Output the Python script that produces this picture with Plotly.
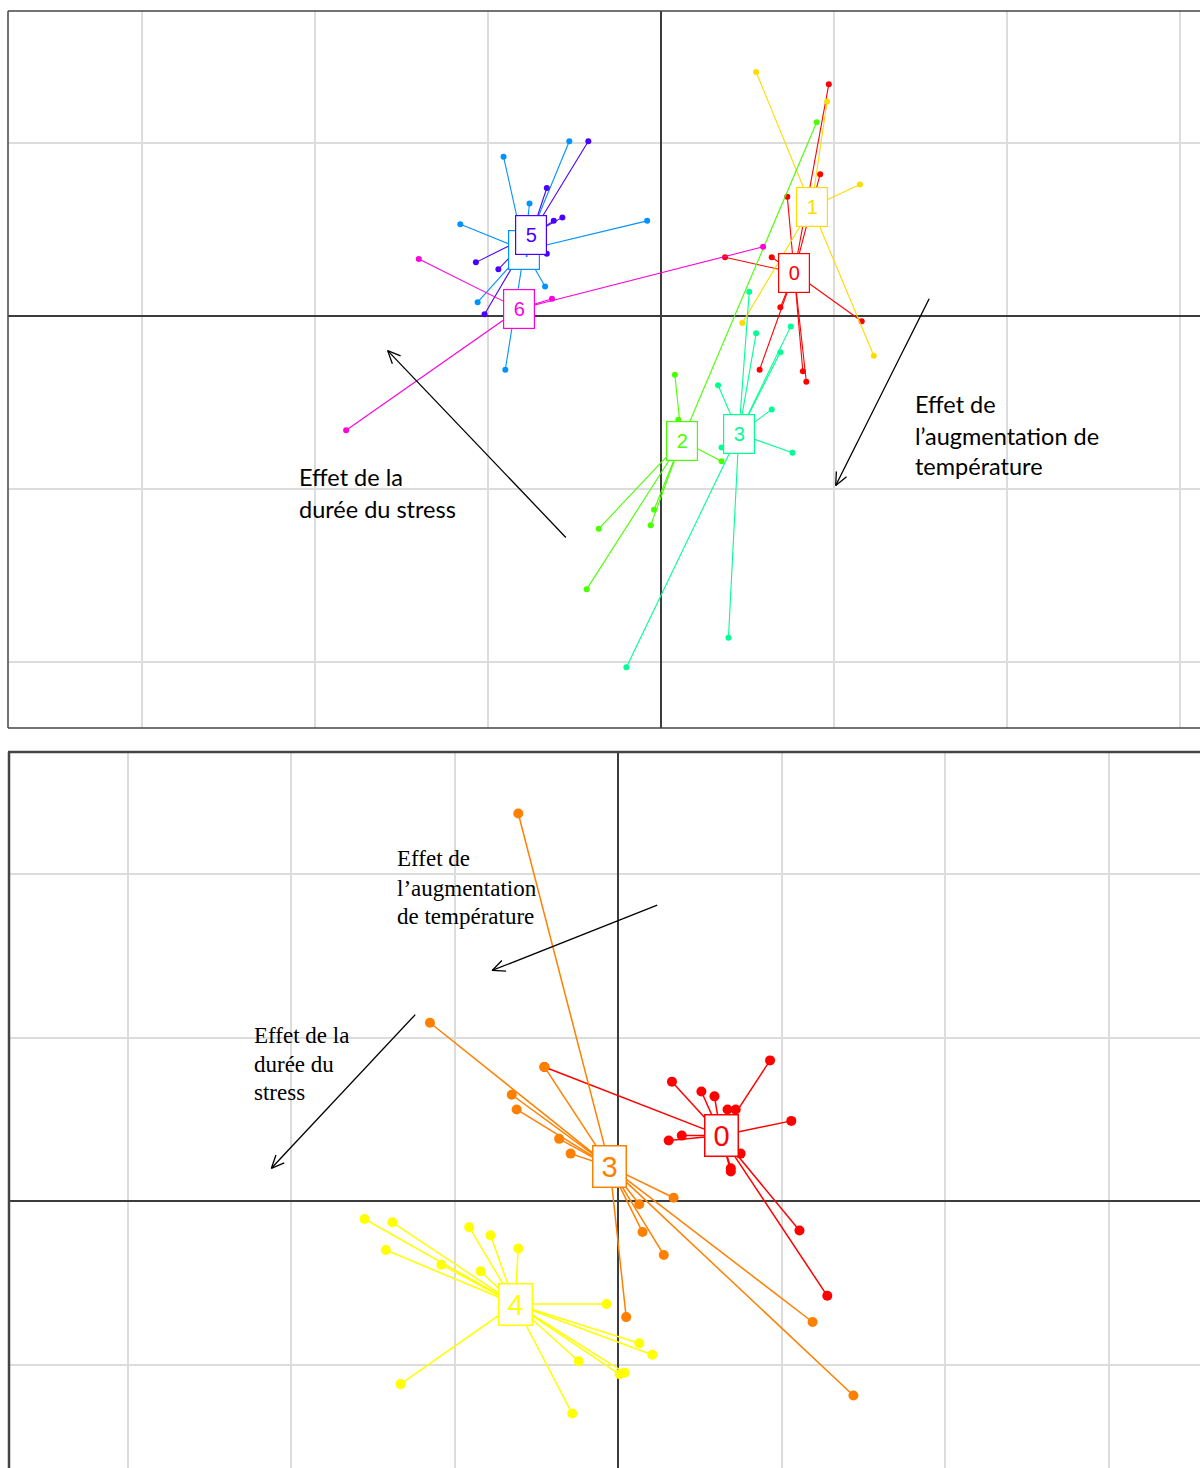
import numpy as np
import plotly.graph_objects as go

W, H = 1200, 1468

# ---------------- Top panel data (grid units) ----------------
top_labels = ["0", "1", "2", "3", "4", "5", "6"]
top_colors = ["#FF0000", "#FFDB00", "#49FF00", "#00FF92", "#0092FF", "#4900FF", "#FF00DB"]
top_cx = [0.77, 0.87, 0.12, 0.45, -0.79, -0.75, -0.82]
top_cy = [0.25, 0.63, -0.72, -0.68, 0.38, 0.47, 0.04]

t0_x = [0.97, 0.92, 0.73, 0.64, 0.37, 1.16, 0.69, 0.57, 0.82, 0.84]
t0_y = [1.34, 0.82, 0.69, 0.34, 0.34, -0.03, 0.05, -0.31, -0.32, -0.38]
t1_x = [0.55, 0.96, 1.15, 0.47, 1.23]
t1_y = [1.41, 1.24, 0.76, -0.04, -0.23]
t2_x = [0.08, 0.10, 0.90, -0.36, -0.43, -0.04, -0.06, 0.35]
t2_y = [-0.34, -0.60, 1.12, -1.23, -1.58, -1.12, -1.21, -0.84]
t3_x = [0.51, 0.55, 0.75, 0.69, 0.33, 0.64, 0.76, 0.35, 0.39, -0.20]
t3_y = [0.14, -0.10, -0.06, -0.21, -0.40, -0.54, -0.79, -0.76, -1.86, -2.03]
t4_x = [-0.91, -0.53, -0.76, -1.16, -0.08, -0.67, -1.06, -0.90]
t4_y = [0.92, 1.01, 0.65, 0.53, 0.55, 0.17, 0.08, -0.31]
t5_x = [-0.42, -0.66, -0.62, -0.57, -0.66, -1.07, -0.94, -1.02]
t5_y = [1.01, 0.74, 0.55, 0.57, 0.36, 0.31, 0.27, 0.01]
t6_x = [-1.40, -0.63, 0.59, -1.82]
t6_y = [0.33, 0.10, 0.40, -0.66]

top_px = [t0_x, t1_x, t2_x, t3_x, t4_x, t5_x, t6_x]
top_py = [t0_y, t1_y, t2_y, t3_y, t4_y, t5_y, t6_y]

# ---------------- Bottom panel data (grid units) ----------------
bot_labels = ["0", "3", "4"]
bot_colors = ["#FF0000", "#FF8000", "#FFFF00"]
bot_cx = [0.63, -0.05, -0.63]
bot_cy = [0.40, 0.21, -0.63]

b0_x = [0.93, 0.33, 0.51, 0.59, 0.67, 0.72, 1.06, 0.39, 0.31, 0.75, 0.69, 0.69, 1.11, 1.28, -0.45]
b0_y = [0.86, 0.73, 0.67, 0.64, 0.56, 0.56, 0.49, 0.40, 0.37, 0.29, 0.20, 0.18, -0.18, -0.58, 0.82]
b3_x = [-0.61, -1.15, -0.45, -0.65, -0.62, -0.36, -0.29, 0.34, 0.13, 0.15, 0.28, 0.05, 1.19, 1.44]
b3_y = [2.37, 1.09, 0.82, 0.65, 0.56, 0.38, 0.29, 0.02, -0.02, -0.19, -0.33, -0.71, -0.74, -1.19]
b4_x = [-1.55, -1.38, -1.42, -1.08, -0.91, -0.78, -0.61, -0.84, -0.07, 0.13, 0.21, -0.24, 0.01, 0.04, -0.28, -1.33]
b4_y = [-0.11, -0.13, -0.30, -0.39, -0.16, -0.21, -0.29, -0.43, -0.63, -0.87, -0.94, -0.98, -1.06, -1.05, -1.30, -1.12]

bot_px = [b0_x, b3_x, b4_x]
bot_py = [b0_y, b3_y, b4_y]

# Arrows (tail -> head), grid units
top_arrows = [((-0.55, -1.28), (-1.58, -0.20)), ((1.55, 0.10), (1.01, -0.98))]
bot_arrows = [((0.24, 1.81), (-0.77, 1.41)), ((-1.24, 1.14), (-2.12, 0.20))]

top_texts = [["Effet de la", "durée du stress"], ["Effet de", "l\u2019augmentation de", "température"]]
bot_texts = [["Effet de", "l\u2019augmentation", "de température"], ["Effet de la", "durée du", "stress"]]

# ---------------- Layout geometry (pixels) ----------------
TOP = dict(left=8, right=1200, top=11, bottom=728, ox=661, oy=316, u=173.0)
BOT = dict(left=8, right=1200, top=752, bottom=1468, ox=618, oy=1201, u=163.5)

fig = go.Figure()


def add_groups(cx, cy, pxs, pys, colors, xa, ya, lw, ms):
    for i in range(len(cx)):
        xs, ys = [], []
        for x, y in zip(pxs[i], pys[i]):
            xs += [cx[i], x, None]
            ys += [cy[i], y, None]
        fig.add_trace(go.Scatter(x=xs, y=ys, mode="lines", xaxis=xa, yaxis=ya,
                                 line=dict(color=colors[i], width=lw),
                                 hoverinfo="skip", showlegend=False))
        fig.add_trace(go.Scatter(x=pxs[i], y=pys[i], mode="markers", xaxis=xa, yaxis=ya,
                                 marker=dict(color=colors[i], size=ms, line=dict(width=0)),
                                 showlegend=False))


def add_arrows(arrows, u, xa, ya):
    L = 14.0 / u
    ang = np.deg2rad(24)
    for (tx, ty), (hx, hy) in arrows:
        d = np.array([tx - hx, ty - hy])
        d = d / np.linalg.norm(d)
        rot = lambda a: np.array([d[0] * np.cos(a) - d[1] * np.sin(a), d[0] * np.sin(a) + d[1] * np.cos(a)])
        p1 = np.array([hx, hy]) + L * rot(ang)
        p2 = np.array([hx, hy]) + L * rot(-ang)
        fig.add_trace(go.Scatter(x=[tx, hx, None, p1[0], hx, p2[0]],
                                 y=[ty, hy, None, p1[1], hy, p2[1]],
                                 mode="lines", xaxis=xa, yaxis=ya,
                                 line=dict(color="black", width=1.3),
                                 hoverinfo="skip", showlegend=False))


add_groups(top_cx, top_cy, top_px, top_py, top_colors, "x", "y", 1.1, 6)
add_groups(bot_cx, bot_cy, bot_px, bot_py, bot_colors, "x2", "y2", 1.5, 10)
add_arrows(top_arrows, TOP["u"], "x", "y")
add_arrows(bot_arrows, BOT["u"], "x2", "y2")


def axis_cfg(P, horizontal):
    if horizontal:
        rng = [(P["left"] - P["ox"]) / P["u"], (P["right"] - P["ox"]) / P["u"]]
    else:
        rng = [(P["oy"] - P["bottom"]) / P["u"], (P["oy"] - P["top"]) / P["u"]]
    return dict(range=rng, showgrid=True, gridcolor="#DCDCDC", gridwidth=1.6,
                dtick=1, tick0=0, zeroline=True, zerolinecolor="#3C3C3C",
                zerolinewidth=1.6, showticklabels=False, ticks="", showline=False,
                fixedrange=True)


def py2paper(py):
    return 1 - py / H


layout = dict(
    width=W, height=H, margin=dict(l=0, r=0, t=0, b=0),
    paper_bgcolor="white", plot_bgcolor="white", showlegend=False,
    xaxis=dict(domain=[TOP["left"] / W, 1], anchor="y", **axis_cfg(TOP, True)),
    yaxis=dict(domain=[py2paper(TOP["bottom"]), py2paper(TOP["top"])], anchor="x",
               **axis_cfg(TOP, False)),
    xaxis2=dict(domain=[BOT["left"] / W, 1], anchor="y2", **axis_cfg(BOT, True)),
    yaxis2=dict(domain=[0, py2paper(BOT["top"])], anchor="x2", **axis_cfg(BOT, False)),
)
fig.update_layout(**layout)

shapes = [
    # top panel frame
    dict(type="line", xref="paper", yref="paper", x0=TOP["left"] / W, x1=1.0,
         y0=py2paper(TOP["top"]), y1=py2paper(TOP["top"]), line=dict(color="#444", width=1.5)),
    dict(type="line", xref="paper", yref="paper", x0=TOP["left"] / W, x1=1.0,
         y0=py2paper(TOP["bottom"]), y1=py2paper(TOP["bottom"]), line=dict(color="#444", width=1.5)),
    dict(type="line", xref="paper", yref="paper", x0=TOP["left"] / W, x1=TOP["left"] / W,
         y0=py2paper(TOP["bottom"]), y1=py2paper(TOP["top"]), line=dict(color="#444", width=1.5)),
    # bottom panel frame
    dict(type="line", xref="paper", yref="paper", x0=BOT["left"] / W, x1=1.0,
         y0=py2paper(BOT["top"]), y1=py2paper(BOT["top"]), line=dict(color="#444", width=2.5)),
    dict(type="line", xref="paper", yref="paper", x0=(BOT["left"] + 1) / W, x1=(BOT["left"] + 1) / W,
         y0=0, y1=py2paper(BOT["top"]), line=dict(color="#444", width=2.5)),
]
fig.update_layout(shapes=shapes)

annotations = []
# class label boxes
for i, lab in enumerate(top_labels):
    annotations.append(dict(x=top_cx[i], y=top_cy[i], xref="x", yref="y", text=lab,
                            showarrow=False, font=dict(family="Liberation Sans", size=20, color=top_colors[i]),
                            bgcolor="white", bordercolor=top_colors[i], borderwidth=1.2, borderpad=0,
                            width=30, height=38, align="center", valign="middle"))
for i, lab in enumerate(bot_labels):
    annotations.append(dict(x=bot_cx[i], y=bot_cy[i], xref="x2", yref="y2", text=lab,
                            showarrow=False, font=dict(family="Liberation Sans", size=29, color=bot_colors[i]),
                            bgcolor="white", bordercolor=bot_colors[i], borderwidth=1.5, borderpad=0,
                            width=32, height=40, align="center", valign="middle"))

# explanatory texts (pixel positions of each line centre)
text_pos_top = [(297, [477, 509]), (913, [404, 436, 466])]
text_pos_bot = [(395, [859, 888, 916]), (252, [1035, 1064, 1092])]
for (px, rows), lines in zip(text_pos_top, top_texts):
    for ry, line in zip(rows, lines):
        annotations.append(dict(x=px / W, y=py2paper(ry), xref="paper", yref="paper", text=line,
                                showarrow=False, xanchor="left", yanchor="middle",
                                font=dict(family="Lato", size=23.5, color="black")))
for (px, rows), lines in zip(text_pos_bot, bot_texts):
    for ry, line in zip(rows, lines):
        annotations.append(dict(x=px / W, y=py2paper(ry), xref="paper", yref="paper", text=line,
                                showarrow=False, xanchor="left", yanchor="middle",
                                font=dict(family="Liberation Serif", size=23, color="black")))
fig.update_layout(annotations=annotations)

fig.write_html("out.html", config={"displayModeBar": False},
               post_script="document.body.style.margin='0px';document.body.style.overflow='hidden';")
